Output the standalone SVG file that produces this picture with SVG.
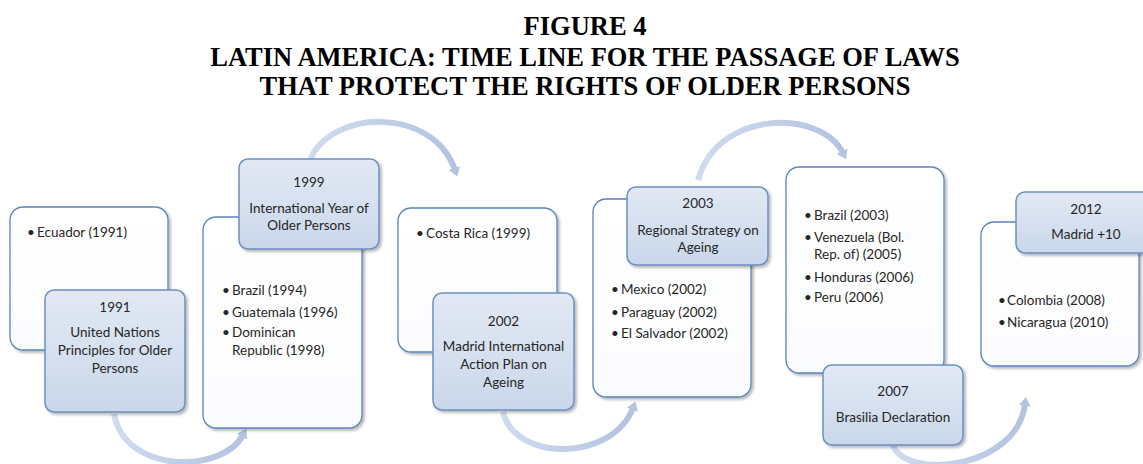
<svg xmlns="http://www.w3.org/2000/svg" width="1143" height="464" viewBox="0 0 1143 464">
<style>
.title{font-family:"Liberation Serif","Times New Roman",serif;font-weight:bold;font-size:26.5px;fill:#000;text-anchor:middle}
.t{font-family:Lato,"Open Sans",sans-serif;font-size:13.5px;fill:#262626}
.c{text-anchor:middle}
.wbox{fill:url(#wg);stroke:#5a84bd;stroke-width:1.3;filter:url(#sh)}
.bbox{fill:url(#bg);stroke:#6f8fc2;stroke-width:1.5;filter:url(#sh)}
.arc{fill:none;stroke:url(#ag);stroke-width:6;stroke-linecap:butt}
</style>
<defs>
<linearGradient id="wg" x1="0" y1="0" x2="0" y2="1">
<stop offset="0" stop-color="#ffffff"/><stop offset="1" stop-color="#fbfcfe"/>
</linearGradient>
<linearGradient id="bg" x1="0" y1="0" x2="0" y2="1">
<stop offset="0" stop-color="#e2e9f4"/><stop offset="1" stop-color="#cad7ea"/>
</linearGradient>
<linearGradient id="ag" x1="0" y1="0" x2="1" y2="0">
<stop offset="0" stop-color="#d0dbee"/><stop offset="1" stop-color="#b3c3e0"/>
</linearGradient>
<filter id="sh" x="-10%" y="-10%" width="125%" height="125%">
<feGaussianBlur in="SourceAlpha" stdDeviation="1.5"/>
<feOffset dx="1.5" dy="2" result="o"/>
<feComponentTransfer><feFuncA type="linear" slope="0.3"/></feComponentTransfer>
<feMerge><feMergeNode/><feMergeNode in="SourceGraphic"/></feMerge>
</filter>
<marker id="ah" markerWidth="10" markerHeight="12" refX="2" refY="6" orient="auto" markerUnits="userSpaceOnUse">
<path d="M0,0 L9,6 L0,12 Z" fill="#b3c3e0"/>
</marker>
</defs>
<rect width="1143" height="464" fill="#fff"/>
<g id="title">
<text class="title" x="585" y="35">FIGURE 4</text>
<text class="title" x="585" y="66">LATIN AMERICA: TIME LINE FOR THE PASSAGE OF LAWS</text>
<text class="title" x="585" y="95">THAT PROTECT THE RIGHTS OF OLDER PERSONS</text>
</g>
<g id="connectors">
<path class="arc" d="M114,414 C125,474 222,474 243,435" marker-end="url(#ah)"/>
<path class="arc" d="M310,160 C330,110 432,105 455,170" marker-end="url(#ah)"/>
<path class="arc" d="M503,412 C515,462 612,462 633,408" marker-end="url(#ah)"/>
<path class="arc" d="M698,180 C718,108 822,110 843,153" marker-end="url(#ah)"/>
<path class="arc" d="M893,445 C905,480 1017,470 1025,404" marker-end="url(#ah)"/>
</g>
<g id="node-ecuador">
<rect class="wbox" x="10" y="207" width="158" height="143" rx="13"/>
<text class="t" x="27" y="237">•</text><text class="t" x="37" y="237">Ecuador (1991)</text>
</g>
<g id="node-1991">
<rect class="bbox" x="45" y="290" width="140" height="122" rx="9"/>
<text class="t c" x="115" y="312">1991</text>
<text class="t c" x="115" y="337">United Nations</text>
<text class="t c" x="115" y="355">Principles for Older</text>
<text class="t c" x="115" y="373">Persons</text>
</g>
<g id="node-brazil1994">
<rect class="wbox" x="203" y="217" width="159" height="211" rx="13"/>
<text class="t" x="222" y="295">•</text><text class="t" x="232" y="295">Brazil (1994)</text>
<text class="t" x="222" y="317">•</text><text class="t" x="232" y="317">Guatemala (1996)</text>
<text class="t" x="222" y="337">•</text><text class="t" x="232" y="337">Dominican</text>
<text class="t" x="232" y="355">Republic (1998)</text>
</g>
<g id="node-1999">
<rect class="bbox" x="239" y="159" width="140" height="90" rx="9"/>
<text class="t c" x="309" y="187">1999</text>
<text class="t c" x="309" y="213">International Year of</text>
<text class="t c" x="309" y="230">Older Persons</text>
</g>
<g id="node-costarica">
<rect class="wbox" x="398" y="208" width="159" height="144" rx="13"/>
<text class="t" x="416" y="238">•</text><text class="t" x="426" y="238">Costa Rica (1999)</text>
</g>
<g id="node-2002">
<rect class="bbox" x="433" y="293" width="141" height="117" rx="9"/>
<text class="t c" x="503.5" y="326">2002</text>
<text class="t c" x="503.5" y="351">Madrid International</text>
<text class="t c" x="503.5" y="369">Action Plan on</text>
<text class="t c" x="503.5" y="387">Ageing</text>
</g>
<g id="node-mexico">
<rect class="wbox" x="593" y="199" width="158" height="198" rx="13"/>
<text class="t" x="611" y="294">•</text><text class="t" x="621" y="294">Mexico (2002)</text>
<text class="t" x="611" y="317">•</text><text class="t" x="621" y="317">Paraguay (2002)</text>
<text class="t" x="611" y="338">•</text><text class="t" x="621" y="338">El Salvador (2002)</text>
</g>
<g id="node-2003">
<rect class="bbox" x="627" y="187" width="141" height="78" rx="9"/>
<text class="t c" x="698" y="208">2003</text>
<text class="t c" x="698" y="235">Regional Strategy on</text>
<text class="t c" x="698" y="252">Ageing</text>
</g>
<g id="node-brazil2003">
<rect class="wbox" x="786" y="167" width="158" height="206" rx="13"/>
<text class="t" x="804" y="220">•</text><text class="t" x="814" y="220">Brazil (2003)</text>
<text class="t" x="804" y="242">•</text><text class="t" x="814" y="242">Venezuela (Bol.</text>
<text class="t" x="814" y="259">Rep. of) (2005)</text>
<text class="t" x="804" y="282">•</text><text class="t" x="814" y="282">Honduras (2006)</text>
<text class="t" x="804" y="302">•</text><text class="t" x="814" y="302">Peru (2006)</text>
</g>
<g id="node-2007">
<rect class="bbox" x="823" y="365" width="140" height="80" rx="9"/>
<text class="t c" x="893" y="396">2007</text>
<text class="t c" x="893" y="422">Brasilia Declaration</text>
</g>
<g id="node-colombia">
<rect class="wbox" x="981" y="222" width="158" height="144" rx="13"/>
<text class="t" x="998" y="305">•</text><text class="t" x="1007" y="305">Colombia (2008)</text>
<text class="t" x="998" y="327">•</text><text class="t" x="1007" y="327">Nicaragua (2010)</text>
</g>
<g id="node-2012">
<rect class="bbox" x="1016" y="192" width="140" height="61" rx="9"/>
<text class="t c" x="1086" y="214">2012</text>
<text class="t c" x="1086" y="239">Madrid +10</text>
</g>
</svg>
